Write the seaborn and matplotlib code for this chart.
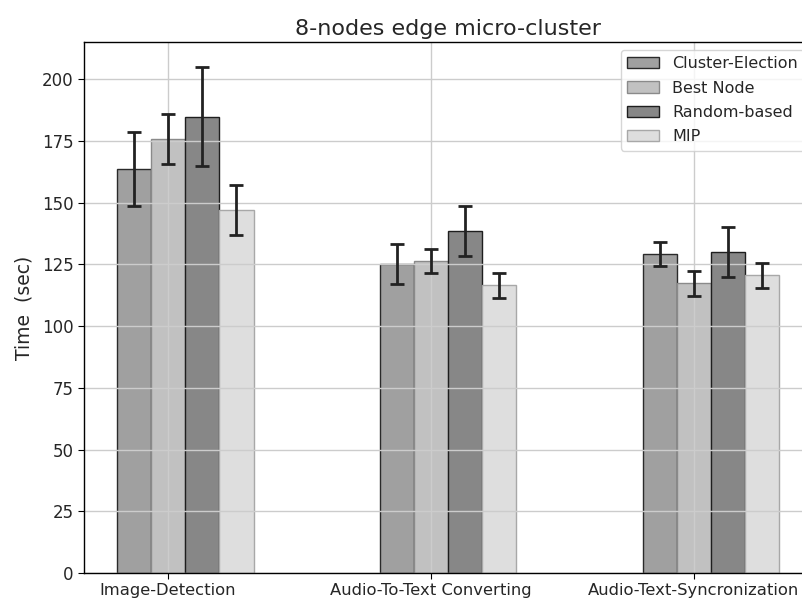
import numpy as np
import pandas as pd
import matplotlib
matplotlib.use("Agg")
import matplotlib.pyplot as plt
import seaborn as sns

# Workloads and scheduling strategies
tasks = ["Image-Detection", "Audio-To-Text Converting", "Audio-Text-Syncronization"]
methods = ["Cluster-Election", "Best Node", "Random-based", "MIP"]

# Mean completion time (sec) per strategy, one value per task
cluster_election = [163.5, 125.2, 129.1]
best_node = [175.6, 126.3, 117.3]
random_based = [184.8, 138.5, 130.0]
mip = [147.0, 116.5, 120.5]

# Standard deviation (sec)
cluster_election_err = [15.0, 8.0, 5.0]
best_node_err = [10.2, 5.0, 5.0]
random_based_err = [20.2, 10.0, 10.0]
mip_err = [10.0, 5.0, 5.0]

face_colors = ["#a0a0a0", "#c1c1c1", "#878787", "#dedede"]
edge_colors = ["#2a2a2a", "#8a8a8a", "#1e1e1e", "#a8a8a8"]

bar_w = 0.13
means = [cluster_election, best_node, random_based, mip]
errs = [cluster_election_err, best_node_err, random_based_err, mip_err]

rows = []
for k, (m, vals) in enumerate(zip(methods, means)):
    for i, v in enumerate(vals):
        rows.append({"pos": i + (k - 1) * bar_w, "method": m, "time": v,
                     "err": errs[k][i]})
df = pd.DataFrame(rows)

sns.set_style("white")
plt.rcParams["font.family"] = ["DejaVu Sans"]
plt.rcParams["axes.axisbelow"] = False

fig = plt.figure(figsize=(8.02, 5.98), dpi=100)
ax = fig.add_axes([0.1047, 0.0418, 0.908, 0.888])

sns.barplot(data=df, x="pos", y="time", hue="method", hue_order=methods,
            palette=face_colors, native_scale=True, dodge=False, width=1.0,
            errorbar=None, linewidth=1.0, edgecolor="#333333", ax=ax)

for k, cont in enumerate(ax.containers):
    for patch in cont.patches:
        patch.set_edgecolor(edge_colors[k])
        patch.set_linewidth(1.0)
        patch.set_zorder(0.5)

ax.errorbar(df["pos"], df["time"], yerr=df["err"], fmt="none",
            ecolor="#222222", elinewidth=2.0, capsize=5, capthick=2.0,
            zorder=5)

ax.set_xlim(-0.32, 2.45)
ax.set_ylim(0, 215)
ax.set_xticks(range(len(tasks)))
ax.set_xticklabels(tasks, fontsize=11.8)
ax.set_yticks(np.arange(0, 201, 25))
ax.tick_params(axis="y", labelsize=12, length=4, color="black", left=True)
ax.tick_params(axis="x", length=4, color="black", bottom=True)
ax.set_xlabel("")
ax.set_ylabel("Time  (sec)", fontsize=13.5, labelpad=6)
ax.set_title("8-nodes edge micro-cluster", fontsize=16, pad=5)

# Grid drawn over the bars
ax.set_axisbelow(False)
ax.grid(True, color="#cccccc", linewidth=1.0)
for s in ax.spines.values():
    s.set_color("black")
    s.set_linewidth(1.0)
    s.set_zorder(6)

leg = ax.legend(loc="upper right", fontsize=11.5, frameon=True,
                borderpad=0.4, handlelength=2.0, labelspacing=0.58)
leg.get_frame().set_edgecolor("#cccccc")
leg.set_zorder(10)
for h, ec in zip(leg.legend_handles, edge_colors):
    h.set_edgecolor(ec)

fig.savefig("out.png", dpi=100)
